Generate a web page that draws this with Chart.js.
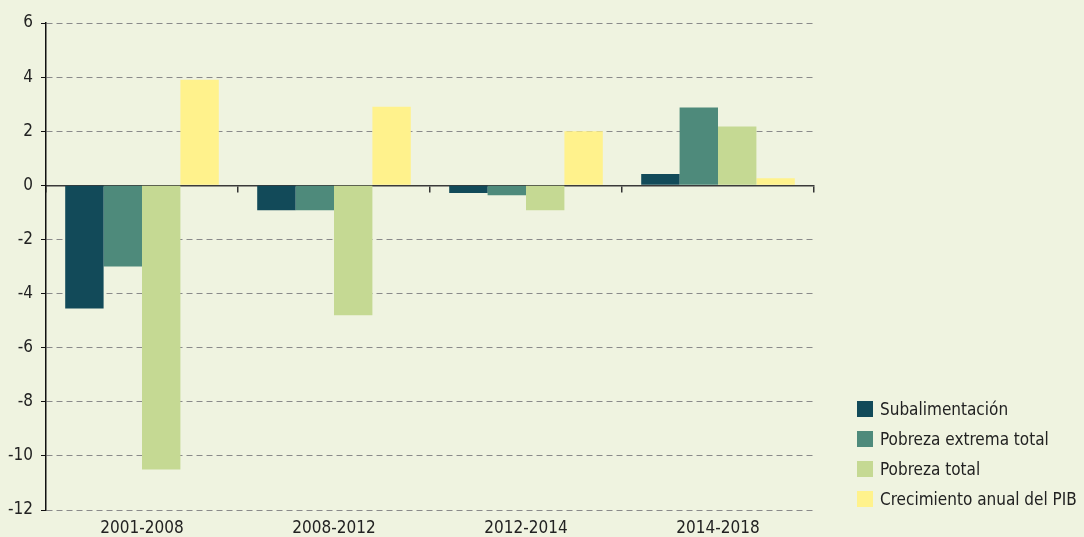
<!DOCTYPE html>
<html>
<head>
<meta charset="utf-8">
<script src="https://cdn.jsdelivr.net/npm/chart.js@4"></script>
<style>
  body { margin: 0; background: #eff3e0; }
  #wrap { position: relative; width: 1084px; height: 537px; }
  #leyenda { position: absolute; left: 857px; top: 399px; font-family: 'DejaVu Sans Condensed', 'Liberation Sans Narrow', sans-serif; font-size: 17px; color: #222; }
  .item { height: 30px; display: flex; align-items: flex-start; white-space: nowrap; }
  .caja { width: 16px; height: 16px; margin-right: 7px; margin-top: 2px; }
</style>
</head>
<body>
<div id="wrap">
  <canvas id="chart" width="1084" height="537"></canvas>
  <div id="leyenda"></div>
</div>
<script>
// === Datos ===
const periodos = ['2001-2008', '2008-2012', '2012-2014', '2014-2018'];
const subalimentacion = [-4.55, -0.92, -0.28, 0.42];
const pobrezaExtrema = [-3.0, -0.92, -0.37, 2.88];
const pobrezaTotal = [-10.5, -4.8, -0.92, 2.17];
const crecimientoPIB = [3.9, 2.9, 2.0, 0.26];

const series = [
    { label: 'Subalimentación', data: subalimentacion, color: '#124a59' },
    { label: 'Pobreza extrema total', data: pobrezaExtrema, color: '#4e8a7b' },
    { label: 'Pobreza total', data: pobrezaTotal, color: '#c5d993' },
    { label: 'Crecimiento anual del PIB', data: crecimientoPIB, color: '#fff28c' }
];

const fuente = "'DejaVu Sans Condensed', 'Liberation Sans Narrow', sans-serif";

const chart = new Chart(document.getElementById('chart'), {
    type: 'bar',
    data: {
        labels: periodos,
        datasets: series.map(s => ({
            label: s.label,
            data: s.data,
            backgroundColor: s.color,
            borderWidth: 0,
            categoryPercentage: 0.8,
            barPercentage: 1.0
        }))
    },
    options: {
        responsive: false,
        animation: false,
        layout: { padding: { top: 23, right: 270, left: 0, bottom: 0 } },
        plugins: {
            legend: { display: false },
            tooltip: { enabled: false }
        },
        scales: {
            x: {
                position: 'bottom',
                grid: { display: false, drawTicks: false },
                border: { display: false },
                ticks: { color: '#222', font: { family: fuente, size: 17 }, padding: 8 },
                afterFit: s => { s.height = 27; }
            },
            x2: {
                type: 'category',
                labels: periodos,
                position: { y: 0 },
                offset: true,
                grid: { offset: true, drawOnChartArea: false, tickLength: 6, tickColor: '#333', lineWidth: 1.5 },
                border: { display: true, color: '#3a3a3a', width: 1.5 },
                ticks: { display: false }
            },
            y: {
                min: -12,
                max: 6,
                ticks: { stepSize: 2, color: '#222', font: { family: fuente, size: 17 }, padding: 8 },
                grid: { color: '#8a8a8a', tickLength: 5, tickColor: '#111', tickBorderDash: [] },
                border: { color: '#111', width: 1.5, dash: [6, 4] },
                afterFit: s => { s.width = 46; }
            }
        }
    }
});

// Leyenda
const leyenda = document.getElementById('leyenda');
series.forEach(s => {
    const fila = document.createElement('div');
    fila.className = 'item';
    fila.innerHTML = `<span class="caja" style="background:${s.color}"></span><span>${s.label}</span>`;
    leyenda.appendChild(fila);
});
</script>
</body>
</html>
